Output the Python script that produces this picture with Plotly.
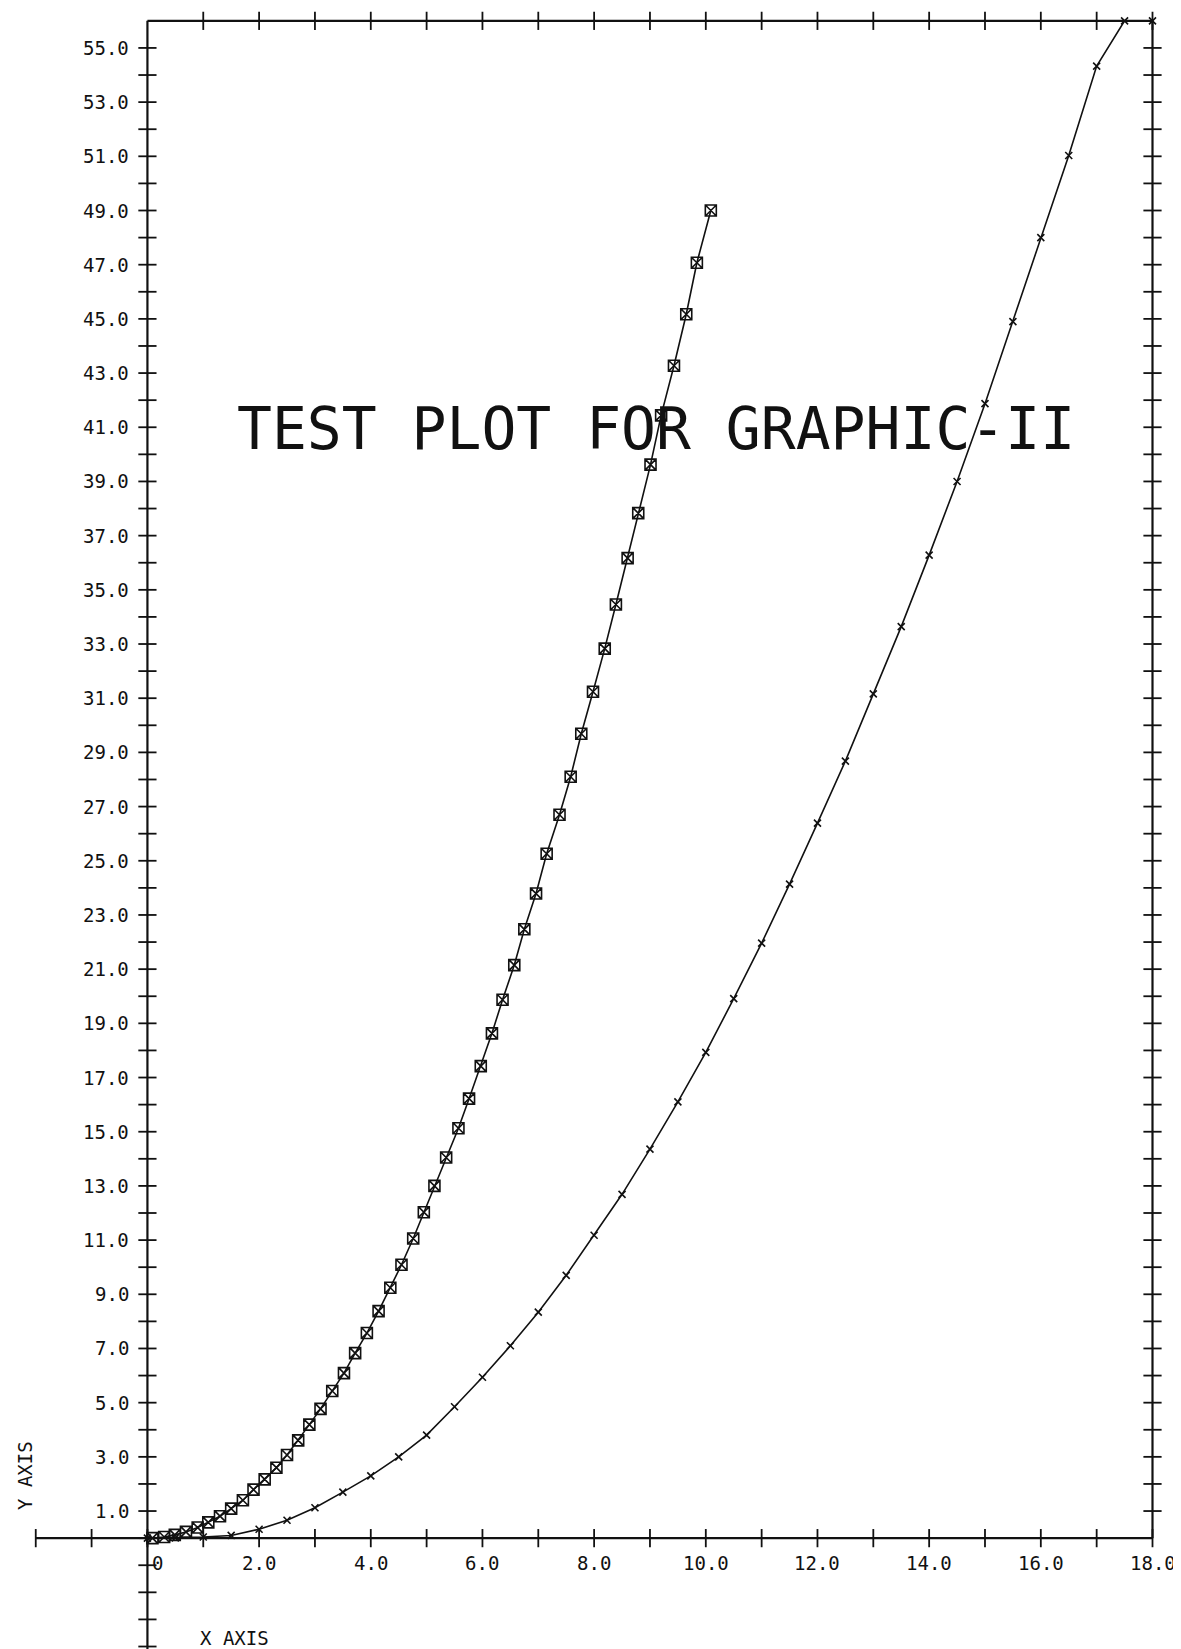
import plotly.graph_objects as go

# ---------------- data ----------------
# series 1 : square-with-cross markers
x1 = [0.09, 0.30, 0.49, 0.69, 0.90, 1.09, 1.30, 1.50, 1.71, 1.90,
      2.10, 2.31, 2.50, 2.70, 2.90, 3.10, 3.31, 3.52, 3.72, 3.93,
      4.14, 4.35, 4.55, 4.76, 4.95, 5.14, 5.35, 5.57, 5.76, 5.97,
      6.17, 6.36, 6.57, 6.75, 6.96, 7.15, 7.38, 7.58, 7.77, 7.98,
      8.19, 8.39, 8.60, 8.79, 9.01, 9.20, 9.43, 9.65, 9.84, 10.09]
y1 = [0.00, 0.04, 0.12, 0.23, 0.39, 0.58, 0.81, 1.09, 1.40, 1.79,
      2.17, 2.60, 3.07, 3.61, 4.19, 4.77, 5.43, 6.09, 6.83, 7.57,
      8.38, 9.24, 10.09, 11.06, 12.03, 13.00, 14.05, 15.13, 16.22, 17.42,
      18.63, 19.87, 21.15, 22.47, 23.79, 25.26, 26.70, 28.10, 29.69, 31.24,
      32.83, 34.46, 36.17, 37.83, 39.62, 41.44, 43.27, 45.17, 47.07, 49.00]

# series 2 : small cross markers
x2 = [0.0, 0.5, 1.0, 1.5, 2.0, 2.5, 3.0, 3.5, 4.0, 4.5,
      5.0, 5.5, 6.0, 6.5, 7.0, 7.5, 8.0, 8.5, 9.0, 9.5,
      10.0, 10.5, 11.0, 11.5, 12.0, 12.5, 13.0, 13.5, 14.0, 14.5,
      15.0, 15.5, 16.0, 16.5, 17.0, 17.5, 18.0]
y2 = [0.00, 0.01, 0.04, 0.10, 0.33, 0.66, 1.12, 1.70, 2.30, 3.00,
      3.80, 4.85, 5.94, 7.10, 8.34, 9.70, 11.18, 12.69, 14.36, 16.10,
      17.93, 19.91, 21.96, 24.14, 26.39, 28.68, 31.16, 33.64, 36.28, 39.00,
      41.87, 44.90, 48.00, 51.03, 54.33, 56.00, 56.00]

# tick labels
x_label_pos = [0.18, 2, 4, 6, 8, 10, 12, 14, 16, 18]
x_labels = ["0", "2.0", "4.0", "6.0", "8.0", "10.0", "12.0", "14.0", "16.0", "18.0"]
y_label_pos = [1, 3, 5, 7, 9, 11, 13, 15, 17, 19, 21, 23, 25, 27, 29, 31, 33, 35,
               37, 39, 41, 43, 45, 47, 49, 51, 53, 55]
y_labels = ["1.0", "3.0", "5.0", "7.0", "9.0", "11.0", "13.0", "15.0", "17.0",
            "19.0", "21.0", "23.0", "25.0", "27.0", "29.0", "31.0", "33.0",
            "35.0", "37.0", "39.0", "41.0", "43.0", "45.0", "47.0", "49.0",
            "51.0", "53.0", "55.0"]

title_text = "TEST PLOT FOR GRAPHIC-II"
x_title = "X AXIS"
y_title = "Y AXIS"

# axis extents
X_MIN, X_MAX = -2, 18
Y_MIN, Y_MAX = -4.2, 56

# ---------------- layout geometry ----------------
W, H = 1181, 1649
X0PX, UX = 139.0, 55.86     # pixel of x=0, pixels per x unit
Y0PX, UY = 1530.0, 27.1     # pixel of y=0, pixels per y unit
xr = [-2.3, 18.6]
yr = [-4.35, 56.4]
ml = X0PX + xr[0] * UX
mr = W - (X0PX + xr[1] * UX)
mt = Y0PX - yr[1] * UY
mb = H - (Y0PX - yr[0] * UY)

INK = "#111111"
FONT = "DejaVu Sans Mono"

fig = go.Figure()

# frame / axes lines
shapes = [
    dict(type="line", x0=X_MIN, x1=X_MAX, y0=0, y1=0),
    dict(type="line", x0=0, x1=0, y0=Y_MIN, y1=Y_MAX),
    dict(type="line", x0=0, x1=X_MAX, y0=Y_MAX, y1=Y_MAX),
    dict(type="line", x0=X_MAX, x1=X_MAX, y0=0, y1=Y_MAX),
]
for s in shapes:
    s.update(xref="x", yref="y", layer="below", line=dict(color=INK, width=2.2))

# tick marks (crossing the lines)
xt_bottom = list(range(X_MIN, X_MAX + 1))
xt_top = list(range(1, X_MAX + 1))
yt_left = [v for v in range(-4, 56)]
yt_right = list(range(1, 56))

tick_style = dict(color=INK, size=13, line=dict(color=INK, width=1.8))
fig.add_trace(go.Scatter(x=xt_bottom + xt_top, y=[0] * len(xt_bottom) + [Y_MAX] * len(xt_top),
                         mode="markers", hoverinfo="skip",
                         marker=dict(symbol="line-ns-open", **tick_style)))
fig.add_trace(go.Scatter(x=[0] * len(yt_left) + [X_MAX] * len(yt_right), y=yt_left + yt_right,
                         mode="markers", hoverinfo="skip",
                         marker=dict(symbol="line-ew-open", **tick_style)))

# data series
fig.add_trace(go.Scatter(x=x2, y=y2, mode="lines+markers",
                         line=dict(color=INK, width=1.6),
                         marker=dict(symbol="x-thin-open", size=7, color=INK,
                                     line=dict(color=INK, width=1.6))))
fig.add_trace(go.Scatter(x=x1, y=y1, mode="lines+markers",
                         line=dict(color=INK, width=1.6),
                         marker=dict(symbol="square-x-open", size=11, color=INK,
                                     line=dict(color=INK, width=1.6))))

annotations = []
lab_font = dict(family=FONT, size=19, color=INK)
for xv, t in zip(x_label_pos, x_labels):
    annotations.append(dict(x=xv, y=-0.9, text=t, showarrow=False, xref="x", yref="y",
                            xanchor="center", yanchor="middle", font=lab_font))
for yv, t in zip(y_label_pos, y_labels):
    annotations.append(dict(x=-0.3, y=yv, text=t, showarrow=False, xref="x", yref="y",
                            xanchor="right", yanchor="middle", font=lab_font))
annotations.append(dict(x=1.56, y=-3.68, text=x_title, showarrow=False, xref="x", yref="y",
                        xanchor="center", yanchor="middle", font=lab_font))
annotations.append(dict(x=-2.18, y=2.32, text=y_title, showarrow=False, xref="x", yref="y",
                        xanchor="center", yanchor="middle", textangle=-90, font=lab_font))
annotations.append(dict(x=9.11, y=40.95, text=title_text, showarrow=False, xref="x", yref="y",
                        xanchor="center", yanchor="middle",
                        font=dict(family=FONT, size=58, color=INK)))

fig.update_layout(
    width=W, height=H,
    margin=dict(l=ml, r=mr, t=mt, b=mb, pad=0),
    paper_bgcolor="white", plot_bgcolor="white",
    showlegend=False,
    shapes=shapes,
    annotations=annotations,
    xaxis=dict(range=xr, visible=False, fixedrange=True),
    yaxis=dict(range=yr, visible=False, fixedrange=True),
)

fig.write_html("out.html")
